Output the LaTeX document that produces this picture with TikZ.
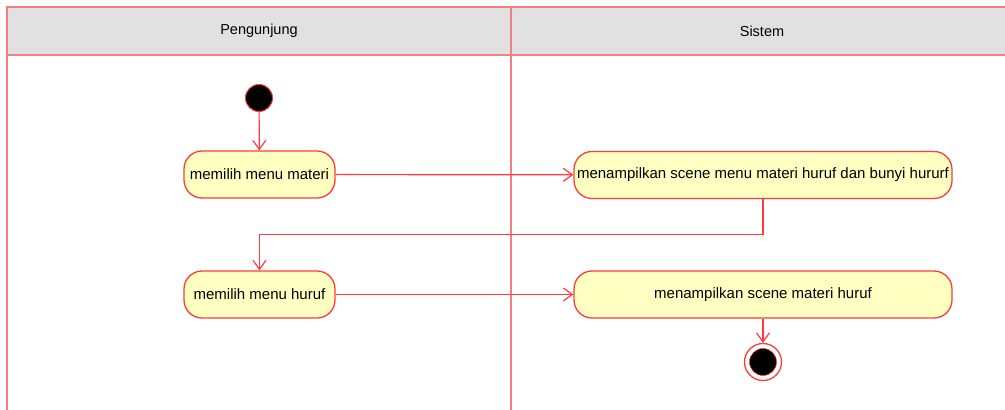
\documentclass[tikz,border=0pt]{standalone}
\usepackage{fontspec}
\setmainfont{Liberation Sans}
\usetikzlibrary{arrows.meta}
\definecolor{lane}{HTML}{F28080}
\definecolor{hdr}{HTML}{E1E1E1}
\definecolor{act}{HTML}{FFFFC2}
\definecolor{edgec}{HTML}{FF3B3B}
\begin{document}
\begin{tikzpicture}[x=1pt,y=-1pt,
  lanestyle/.style={draw=lane,line width=1.3pt},
  hdrtext/.style={font=\fontsize{14.5}{17}\selectfont,text=black},
  actbox/.style={draw=edgec,fill=act,line width=1.3pt,rounded corners=18pt,
    minimum height=47pt,inner sep=0pt,font=\fontsize{15}{18}\selectfont,text=black},
  flow/.style={draw=edgec,line width=1.2pt,-{Straight Barb[length=9pt,width=13pt]}},
  startnode/.style={circle,fill=black,draw=edgec,line width=1pt,minimum size=27pt,inner sep=0pt},
  endouter/.style={circle,draw=edgec,line width=1.3pt,minimum size=37pt,inner sep=0pt},
  endinner/.style={circle,fill=black,draw=edgec,line width=0.6pt,minimum size=27pt,inner sep=0pt}]
\useasboundingbox (0,0) rectangle (1005,410);
% swimlane header
\fill[hdr] (7,7) rectangle (1010,55);
\draw[lanestyle] (1010,7) -- (7,7) -- (7,412);
\draw[lanestyle] (7,55) -- (1010,55);
\draw[lanestyle] (511,7) -- (511,412);
\node[hdrtext] (h1) at (259,31) {Pengunjung};
\node[hdrtext] (h2) at (762,31) {Sistem};
% nodes
\node[startnode] (s) at (259,98) {};
\node[actbox,minimum width=151pt] (a1) at (259.5,174.5) {memilih menu materi};
\node[actbox,minimum width=378pt] (a2) at (763,175) {menampilkan scene menu materi huruf dan bunyi hururf};
\node[actbox,minimum width=151pt] (a3) at (259.5,294.5) {memilih menu huruf};
\node[actbox,minimum width=378pt] (a4) at (763,294.5) {menampilkan scene materi huruf};
\node[endouter] (e) at (763,362) {};
\node[endinner] (ei) at (763,362) {};
% connectors
\draw[flow] (s) -- (a1);
\draw[flow] (a1) -- (a2);
\draw[flow] (a2.south) -- ++(0,35.5) -| (a3.north);
\draw[flow] (a3) -- (a4);
\draw[flow] (a4) -- (e);
\end{tikzpicture}
\end{document}
